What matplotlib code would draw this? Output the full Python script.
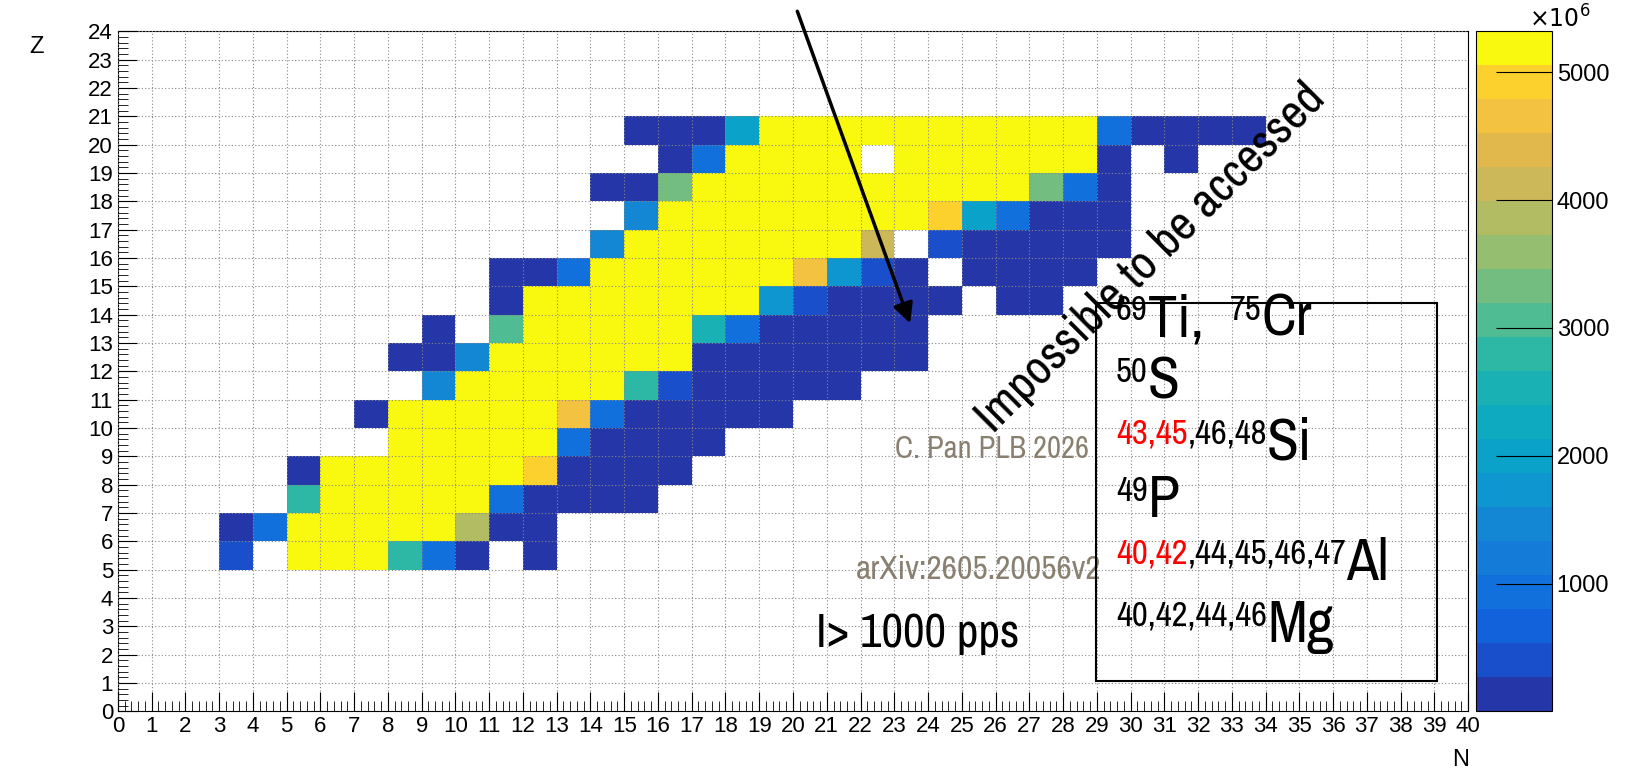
import numpy as np
import matplotlib
matplotlib.use("Agg")
import matplotlib.pyplot as plt
from matplotlib.colors import ListedColormap, BoundaryNorm
from matplotlib.ticker import AutoMinorLocator
from matplotlib.patches import Rectangle
from matplotlib import font_manager as fm

# ---------------- data ----------------
# rows of the (N, Z) chart: one character per N = 0..40, '.' = empty
ROW_Z = [5, 6, 7, 8, 9, 10, 11, 12, 13, 14, 15, 16, 17, 18, 19, 20]
ROW_CELLS = [
    "...b.yyytmd.d............................",  # Z=5
    "...dmyyyyyodd............................",  # Z=6
    ".....tyyyyymdddd.........................",  # Z=7
    ".....dyyyyyyYdddd........................",  # Z=8
    "........yyyyymdddd.......................",  # Z=9
    ".......dyyyyyOmddddd.....................",  # Z=10
    ".........lyyyyytbddddd...................",  # Z=11
    "........ddlyyyyyyddddddd.................",  # Z=12
    ".........d.gyyyyyqmddddd.................",  # Z=13
    "...........dyyyyyyycbdddd.dd.............",  # Z=14
    "...........ddmyyyyyyOcbd.dddd............",  # Z=15
    "..............lyyyyyyyT.bddddd...........",  # Z=16
    "...............lyyyyyyyyYCmddd...........",  # Z=17
    "..............ddGyyyyyyyyyyGmd...........",  # Z=18
    "................dmyyyy.yyyyyyd.d.........",  # Z=19
    "...............dddCyyyyyyyyyymdddd.......",  # Z=20
]
# intensity (x10^6) associated with each colour code
CODE_VALUE = {"d": 100, "b": 400, "m": 900, "l": 1450, "c": 1750, "C": 2000,
              "q": 2500, "t": 2800, "g": 3050, "G": 3300, "o": 3850,
              "T": 4100, "O": 4650, "Y": 4950, "y": 5300}
ZMAX = 5320
CBAR_TICKS = [1000, 2000, 3000, 4000, 5000]
N_TICKS = list(range(0, 41))
Z_TICKS = list(range(0, 25))

BAND_COLORS = ["#2536a8", "#1a4fcc", "#1262dc", "#1270dc", "#147cd8", "#1387d4",
               "#0e96d0", "#0ba2ca", "#0eabc0", "#1ab1b4", "#2db8a6", "#50bc94",
               "#74bd80", "#96be70", "#b2bc62", "#ccb858", "#e0b84c", "#f2c240",
               "#fcd12e", "#f9f90f"]

NUCLEI_LINES = [
    [("69", "k", True), ("Ti,  ", "k", False), ("75", "k", True), ("Cr", "k", False)],
    [("50", "k", True), ("S", "k", False)],
    [("43,45", "red", True), (",46,48", "k", True), ("Si", "k", False)],
    [("49", "k", True), ("P", "k", False)],
    [("40,42", "red", True), (",44,45,46,47", "k", True), ("Al", "k", False)],
    [("40,42,44,46", "k", True), ("Mg", "k", False)],
]

# ---------------- build grid ----------------
grid = np.full((25, 41), np.nan)
for z, row in zip(ROW_Z, ROW_CELLS):
    for n, ch in enumerate(row):
        if ch != ".":
            grid[z, n] = CODE_VALUE[ch]

plt.rcParams["font.family"] = ["Liberation Sans", "DejaVu Sans"]
fig = plt.figure(figsize=(16.25, 7.71), dpi=100)
ax = fig.add_axes([0.0726, 0.0774, 0.9034 - 0.0726, 0.9594 - 0.0774])
cax = fig.add_axes([0.908, 0.0774, 0.955 - 0.908, 0.9594 - 0.0774])

cmap = ListedColormap(BAND_COLORS)
norm = BoundaryNorm(np.linspace(0, ZMAX, 21), 20)
mesh = ax.pcolormesh(np.arange(42), np.arange(26), np.ma.masked_invalid(grid),
                     cmap=cmap, norm=norm)
ax.set_xlim(0, 40)
ax.set_ylim(0, 24)
ax.set_xticks(N_TICKS)
ax.set_yticks(Z_TICKS)
ax.xaxis.set_minor_locator(AutoMinorLocator(5))
ax.yaxis.set_minor_locator(AutoMinorLocator(5))
ax.tick_params(which="major", direction="in", length=14, labelsize=16,
               top=False, right=False)
ax.tick_params(which="minor", direction="in", length=7, top=False, right=False)
ax.grid(True, which="major", color="#888888", linestyle=(0, (1, 2)), linewidth=0.8)
ax.set_axisbelow(False)

fig.text(36 / 1625, 1 - 47 / 771, "Z", fontsize=17, ha="center", va="center")
fig.text(1461 / 1625, 1 - 760 / 771, "N", fontsize=17, ha="center", va="center")

cb = fig.colorbar(mesh, cax=cax, ticks=CBAR_TICKS)
cb.outline.set_linewidth(0.8)
cax.tick_params(direction="in", length=40, labelsize=17, right=True, left=False,
                labelright=True)
cax.minorticks_off()
fig.text(0.96, 0.975, r"$\times10^{6}$", fontsize=17, ha="center", va="center")

# condensed font
cond = None
for f in fm.fontManager.ttflist:
    if "condensed" in f.name.lower() or "narrow" in f.name.lower():
        cond = f.name
        break
    if f.name == "DejaVu Sans" and "Condensed" in f.fname:
        cond = "DejaVu Sans"
NARROW = dict(family=[cond or "DejaVu Sans", "DejaVu Sans"], stretch="condensed")

ax.annotate("", xy=(23.5, 13.6), xytext=(20.1, 24.8),
            arrowprops=dict(arrowstyle="-|>", lw=2.5, color="k",
                            mutation_scale=30),
            annotation_clip=False)

ax.text(30.6, 16.0, "Impossible to be accessed", rotation=45, fontsize=35,
        ha="center", va="center", **NARROW)
ax.text(25.9, 9.25, "C. Pan PLB 2026", fontsize=22, color="#8a8070",
        ha="center", va="center", **NARROW)
ax.text(25.5, 5.0, "arXiv:2605.20056v2", fontsize=24, color="#8a8070",
        ha="center", va="center", **NARROW)
ax.text(23.7, 2.75, "I> 1000 pps", fontsize=34, color="k",
        ha="center", va="center", **NARROW)

bx0 = (1096 - 118) / 33.75
bx1 = (1437 - 118) / 33.75
by0 = (711.3 - 681) / 28.33
by1 = (711.3 - 303) / 28.33
ax.add_patch(Rectangle((bx0, by0), bx1 - bx0, by1 - by0, fill=False,
                       edgecolor="k", lw=1.5, zorder=5))

fig.canvas.draw()
renderer = fig.canvas.get_renderer()
line_y = [336, 398, 460, 517, 580, 642]
for yy, parts in zip(line_y, NUCLEI_LINES):
    x = 1116
    for txt, col, sup in parts:
        fs = 25 if sup else 42
        dy = 16 if sup else 0
        t = fig.text(x / 1625, 1 - (yy - dy) / 771, txt, fontsize=fs, color=col,
                     ha="left", va="baseline", **NARROW)
        bb = t.get_window_extent(renderer)
        x += bb.width
fig.savefig("out.png", dpi=100)
